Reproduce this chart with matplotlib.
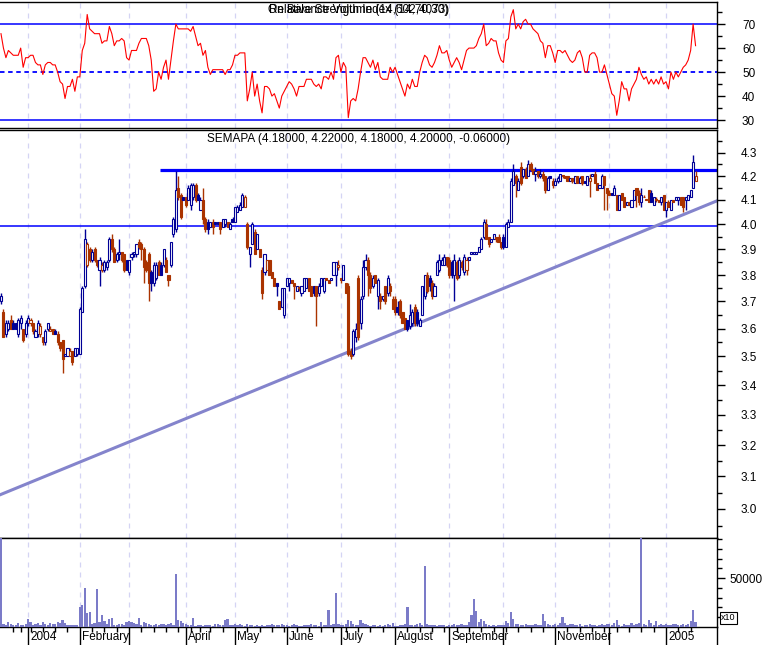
import matplotlib
matplotlib.use('Agg')
import matplotlib.pyplot as plt
from matplotlib.ticker import FixedLocator, NullFormatter, FuncFormatter
from matplotlib.lines import Line2D
import numpy as np
import pandas as pd

plt.rcParams['font.family'] = ['Liberation Sans', 'DejaVu Sans']

# ---- price data (one bar per trading day, 15 Dec 2003 .. 19 Jan 2005) ----
opens = [
    3.70, 3.66, 3.58, 3.60, 3.63, 3.62, 3.62, 3.58, 3.62, 3.60, 3.58,
    3.62, 3.62, 3.62, 3.57, 3.58, 3.58, 3.57, 3.55, 3.60, 3.59, 3.60, 3.59, 3.58, 3.55, 3.56, 3.50, 3.50, 3.50, 3.52, 3.50, 3.51,
    3.51, 3.66, 3.76, 3.84, 3.90, 3.86, 3.90, 3.86, 3.82, 3.82, 3.82, 3.83, 3.86, 3.94, 3.90, 3.86, 3.88, 3.89, 3.88, 3.86,
    3.81, 3.87, 3.88, 3.88, 3.93, 3.92, 3.90, 3.85, 3.88, 3.81, 3.77, 3.79, 3.85, 3.84, 3.84, 3.86, 3.80, 3.84, 3.96, 3.98, 4.15, 4.12, 4.11,
    4.11, 4.10, 4.08, 4.11, 4.16, 4.12, 4.06, 4.10, 4.02, 4.01, 3.99, 4.01, 4.01, 4.01, 4.01, 3.99, 4.00, 4.01, 3.98, 4.02,
    4.01, 4.05, 4.06, 4.07, 4.07, 4.00, 3.88, 3.92, 3.97, 3.90, 3.90, 3.82, 3.81, 3.82, 3.86, 3.81, 3.79, 3.77, 3.70, 3.68, 3.65,
    3.76, 3.77, 3.78, 3.77, 3.74, 3.75, 3.73, 3.74, 3.75, 3.79, 3.76, 3.76, 3.76, 3.73, 3.76, 3.74, 3.79, 3.78, 3.78, 3.80, 3.80, 3.83,
    3.79, 3.78, 3.77, 3.76, 3.52, 3.51, 3.57, 3.79, 3.62, 3.72, 3.83, 3.86, 3.80, 3.76, 3.80, 3.72, 3.72, 3.71, 3.76, 3.73, 3.76, 3.71,
    3.71, 3.68, 3.70, 3.66, 3.64, 3.63, 3.61, 3.62, 3.68, 3.66, 3.61, 3.65, 3.72, 3.80, 3.79, 3.77, 3.72, 3.80, 3.82, 3.84, 3.84, 3.87,
    3.86, 3.85, 3.80, 3.85, 3.80, 3.85, 3.81, 3.82, 3.86, 3.88, 3.88, 3.88, 3.89, 3.90, 3.95, 4.00, 3.95, 3.93, 3.94, 3.95, 3.95, 3.93,
    3.95, 3.91, 3.99, 4.01, 4.16, 4.20, 4.14, 4.24, 4.20, 4.23, 4.20, 4.25, 4.23, 4.21, 4.22, 4.20, 4.21, 4.20, 4.14, 4.20, 4.18,
    4.16, 4.18, 4.18, 4.20, 4.20, 4.20, 4.18, 4.19, 4.17, 4.20, 4.17, 4.20, 4.18, 4.16, 4.18, 4.20, 4.21, 4.17, 4.15, 4.15, 4.20, 4.15,
    4.13, 4.13, 4.12, 4.12, 4.06, 4.13, 4.11, 4.08, 4.09, 4.07, 4.10, 4.15, 4.13, 4.09, 4.11, 4.10, 4.14, 4.13, 4.08, 4.10, 4.10, 4.09, 4.12,
    4.06, 4.09, 4.06, 4.10, 4.10, 4.10, 4.11, 4.11, 4.10, 4.10, 4.11, 4.15, 4.18,
]
highs = [
    3.73, 3.67, 3.63, 3.63, 3.65, 3.63, 3.62, 3.64, 3.65, 3.60, 3.63,
    3.65, 3.64, 3.62, 3.60, 3.63, 3.62, 3.57, 3.60, 3.62, 3.61, 3.60, 3.60, 3.59, 3.55, 3.56, 3.51, 3.53, 3.53, 3.52, 3.53, 3.53,
    3.68, 3.76, 3.98, 3.93, 3.91, 3.90, 3.91, 3.86, 3.87, 3.85, 3.86, 3.86, 3.95, 3.96, 3.91, 3.89, 3.94, 3.89, 3.88, 3.86,
    3.86, 3.89, 3.89, 3.92, 3.94, 3.93, 3.91, 3.86, 3.89, 3.82, 3.85, 3.85, 3.86, 3.85, 3.90, 3.87, 3.80, 3.93, 4.03, 4.22, 4.20, 4.13, 4.11,
    4.11, 4.16, 4.17, 4.17, 4.17, 4.13, 4.11, 4.15, 4.03, 4.02, 4.01, 4.02, 4.01, 4.01, 4.01, 4.02, 4.02, 4.01, 4.01, 4.03,
    4.07, 4.08, 4.09, 4.13, 4.12, 4.01, 3.91, 4.01, 3.98, 3.96, 3.90, 3.83, 3.88, 3.86, 3.86, 3.81, 3.79, 3.77, 3.70, 3.75, 3.75,
    3.79, 3.79, 3.78, 3.77, 3.76, 3.76, 3.76, 3.79, 3.79, 3.79, 3.76, 3.76, 3.76, 3.77, 3.79, 3.79, 3.79, 3.78, 3.79, 3.85, 3.85, 3.86,
    3.79, 3.84, 3.77, 3.77, 3.53, 3.60, 3.62, 3.80, 3.72, 3.86, 3.88, 3.87, 3.81, 3.80, 3.80, 3.79, 3.73, 3.72, 3.76, 3.80, 3.77, 3.72,
    3.72, 3.70, 3.71, 3.66, 3.64, 3.63, 3.69, 3.67, 3.69, 3.67, 3.64, 3.76, 3.80, 3.81, 3.80, 3.78, 3.77, 3.86, 3.88, 3.87, 3.88, 3.87,
    3.87, 3.86, 3.88, 3.86, 3.87, 3.86, 3.88, 3.87, 3.87, 3.89, 3.89, 3.89, 3.91, 3.95, 4.02, 4.02, 3.95, 3.94, 3.96, 3.95, 3.96, 3.93,
    3.96, 4.01, 4.02, 4.19, 4.25, 4.21, 4.19, 4.26, 4.23, 4.24, 4.27, 4.26, 4.23, 4.24, 4.22, 4.23, 4.22, 4.20, 4.20, 4.20, 4.19,
    4.19, 4.20, 4.21, 4.20, 4.20, 4.20, 4.19, 4.19, 4.20, 4.20, 4.20, 4.20, 4.18, 4.20, 4.21, 4.21, 4.22, 4.17, 4.16, 4.21, 4.20, 4.15,
    4.14, 4.13, 4.16, 4.12, 4.12, 4.13, 4.11, 4.09, 4.09, 4.10, 4.14, 4.15, 4.14, 4.15, 4.12, 4.10, 4.14, 4.14, 4.11, 4.11, 4.10, 4.11, 4.12,
    4.09, 4.10, 4.10, 4.10, 4.11, 4.11, 4.11, 4.11, 4.11, 4.12, 4.14, 4.29, 4.22,
]
lows = [
    3.69, 3.57, 3.57, 3.59, 3.60, 3.60, 3.60, 3.57, 3.60, 3.55, 3.57,
    3.61, 3.61, 3.58, 3.57, 3.57, 3.57, 3.54, 3.54, 3.59, 3.59, 3.58, 3.58, 3.54, 3.52, 3.44, 3.50, 3.50, 3.50, 3.47, 3.50, 3.50,
    3.51, 3.66, 3.75, 3.83, 3.85, 3.85, 3.85, 3.83, 3.76, 3.81, 3.81, 3.82, 3.85, 3.89, 3.85, 3.85, 3.86, 3.85, 3.81, 3.82,
    3.80, 3.86, 3.87, 3.87, 3.90, 3.86, 3.77, 3.81, 3.70, 3.74, 3.76, 3.78, 3.80, 3.80, 3.83, 3.81, 3.76, 3.83, 3.95, 3.97, 4.10, 4.02, 4.10,
    4.07, 4.10, 4.06, 4.10, 4.09, 4.10, 4.06, 4.00, 3.97, 3.96, 3.99, 3.96, 4.00, 4.00, 3.96, 3.99, 3.99, 3.99, 3.98, 4.01,
    4.01, 4.05, 4.06, 4.07, 4.07, 3.90, 3.83, 3.92, 3.88, 3.90, 3.87, 3.71, 3.80, 3.82, 3.80, 3.79, 3.76, 3.72, 3.67, 3.68, 3.64,
    3.76, 3.74, 3.77, 3.71, 3.74, 3.74, 3.72, 3.74, 3.75, 3.74, 3.72, 3.72, 3.61, 3.72, 3.76, 3.73, 3.78, 3.77, 3.78, 3.80, 3.76, 3.82,
    3.77, 3.78, 3.73, 3.50, 3.49, 3.50, 3.55, 3.56, 3.60, 3.71, 3.82, 3.72, 3.73, 3.75, 3.77, 3.67, 3.67, 3.70, 3.69, 3.72, 3.72, 3.67,
    3.65, 3.65, 3.64, 3.62, 3.60, 3.59, 3.60, 3.61, 3.61, 3.61, 3.61, 3.65, 3.71, 3.73, 3.74, 3.71, 3.72, 3.80, 3.81, 3.84, 3.84, 3.83,
    3.79, 3.79, 3.70, 3.78, 3.79, 3.82, 3.80, 3.80, 3.86, 3.88, 3.88, 3.88, 3.89, 3.90, 3.94, 3.94, 3.91, 3.93, 3.94, 3.93, 3.93, 3.90,
    3.90, 3.91, 3.99, 4.01, 4.16, 4.11, 4.14, 4.16, 4.19, 4.19, 4.20, 4.22, 4.21, 4.18, 4.19, 4.19, 4.18, 4.13, 4.14, 4.19, 4.15,
    4.16, 4.17, 4.18, 4.19, 4.19, 4.18, 4.18, 4.17, 4.17, 4.17, 4.17, 4.16, 4.17, 4.16, 4.11, 4.20, 4.17, 4.14, 4.15, 4.15, 4.06, 4.06,
    4.12, 4.12, 4.12, 4.06, 4.06, 4.10, 4.07, 4.08, 4.08, 4.07, 4.10, 4.07, 4.08, 4.07, 4.11, 4.10, 4.09, 4.09, 4.08, 4.09, 4.09, 4.08, 4.06,
    4.03, 4.07, 4.06, 4.09, 4.10, 4.08, 4.08, 4.05, 4.06, 4.10, 4.11, 4.15, 4.18,
]
closes = [
    3.72, 3.57, 3.62, 3.62, 3.60, 3.60, 3.60, 3.63, 3.64, 3.56, 3.62,
    3.64, 3.63, 3.59, 3.59, 3.62, 3.61, 3.55, 3.59, 3.62, 3.60, 3.58, 3.58, 3.55, 3.53, 3.49, 3.51, 3.53, 3.52, 3.48, 3.53, 3.53,
    3.67, 3.75, 3.94, 3.92, 3.86, 3.89, 3.86, 3.84, 3.86, 3.84, 3.85, 3.85, 3.94, 3.90, 3.85, 3.88, 3.89, 3.86, 3.82, 3.82,
    3.86, 3.88, 3.89, 3.92, 3.91, 3.90, 3.83, 3.82, 3.77, 3.77, 3.84, 3.84, 3.80, 3.80, 3.90, 3.81, 3.78, 3.93, 4.02, 4.14, 4.11, 4.03, 4.10,
    4.08, 4.15, 4.16, 4.16, 4.10, 4.10, 4.10, 4.02, 3.98, 3.98, 4.01, 3.99, 4.00, 4.00, 3.98, 4.02, 4.02, 3.99, 4.00, 4.01,
    4.07, 4.07, 4.08, 4.12, 4.11, 3.91, 3.91, 4.00, 3.88, 3.96, 3.87, 3.73, 3.88, 3.86, 3.80, 3.79, 3.76, 3.76, 3.67, 3.75, 3.75,
    3.79, 3.79, 3.77, 3.76, 3.76, 3.75, 3.76, 3.79, 3.79, 3.74, 3.72, 3.73, 3.72, 3.76, 3.79, 3.79, 3.78, 3.77, 3.79, 3.85, 3.85, 3.84,
    3.78, 3.84, 3.73, 3.51, 3.50, 3.59, 3.60, 3.57, 3.71, 3.83, 3.86, 3.80, 3.75, 3.79, 3.77, 3.78, 3.70, 3.72, 3.70, 3.79, 3.74, 3.67,
    3.66, 3.66, 3.65, 3.62, 3.60, 3.60, 3.65, 3.66, 3.62, 3.62, 3.63, 3.76, 3.80, 3.74, 3.76, 3.72, 3.76, 3.85, 3.86, 3.86, 3.87, 3.84,
    3.80, 3.80, 3.86, 3.79, 3.86, 3.83, 3.87, 3.86, 3.87, 3.89, 3.89, 3.89, 3.91, 3.94, 4.01, 3.94, 3.92, 3.94, 3.96, 3.94, 3.93, 3.91,
    3.91, 4.00, 4.01, 4.18, 4.22, 4.17, 4.18, 4.17, 4.23, 4.19, 4.25, 4.23, 4.21, 4.22, 4.20, 4.21, 4.19, 4.14, 4.19, 4.19, 4.16,
    4.18, 4.19, 4.21, 4.20, 4.19, 4.18, 4.19, 4.18, 4.20, 4.17, 4.19, 4.17, 4.17, 4.20, 4.19, 4.21, 4.17, 4.14, 4.16, 4.20, 4.16, 4.13,
    4.12, 4.12, 4.15, 4.06, 4.12, 4.10, 4.07, 4.09, 4.08, 4.10, 4.14, 4.12, 4.09, 4.12, 4.11, 4.10, 4.09, 4.09, 4.11, 4.10, 4.09, 4.11, 4.06,
    4.09, 4.07, 4.10, 4.09, 4.11, 4.11, 4.08, 4.07, 4.11, 4.12, 4.14, 4.26, 4.20,
]
volume = [
    120000, 3000, 2500, 5000, 3000, 2000, 2500, 4500, 2000, 2000, 3000,
    8000, 5000, 2500, 3000, 4000, 2500, 5000, 3500, 2500, 4000, 3000, 3000, 5000, 4000, 7000, 4000, 2500, 2000, 2500, 2000, 2500,
    20000, 22000, 40000, 14000, 15000, 3000, 4000, 39000, 5000, 12000, 6000, 3000, 8000, 9000, 2500, 2000, 3000, 3000, 2500, 5000,
    6000, 5000, 4500, 3000, 9000, 2500, 5000, 4000, 3000, 2500, 2000, 3000, 2500, 3500, 3000, 2500, 3000, 4000, 2500, 54000, 7000, 6000, 4000,
    3000, 2500, 2000, 9000, 1500, 2000, 2500, 1500, 2000, 2500, 2000, 1500, 3500, 3000, 2000, 2500, 7500, 8000, 2500, 2000,
    3000, 2500, 3500, 2000, 1500, 3000, 2500, 2000, 1500, 2000, 1500, 2000, 1500, 2500, 2000, 3000, 2500, 2000, 2500, 3000, 2000,
    2000, 1500, 2000, 3000, 2000, 1500, 1500, 2500, 2000, 2500, 3000, 2000, 2000, 1500, 5000, 2000, 2000, 17000, 2500, 3000, 35000, 3000,
    2000, 2500, 3000, 7000, 6000, 3000, 2500, 2000, 7000, 4000, 3000, 2000, 1500, 2000, 2500, 1500, 2000, 1500, 2000, 3000, 2000, 4000,
    1500, 1500, 2000, 2500, 3000, 20000, 2500, 2000, 2500, 3000, 4000, 2000, 62000, 3000, 2500, 2000, 2000, 1500, 2000, 2500, 2000, 1500,
    2000, 2500, 3000, 2000, 2500, 3500, 2500, 2000, 5000, 12000, 29000, 16000, 5000, 8000, 6000, 3000, 2000, 1500, 2000, 1500, 2500, 2000,
    2000, 6000, 4000, 15000, 8000, 3000, 3500, 2500, 2000, 3000, 2500, 2000, 2500, 3500, 2000, 2500, 13000, 6000, 3000, 2500, 2000,
    3000, 2500, 4500, 10000, 4000, 2000, 3500, 3000, 2500, 2000, 3000, 1500, 2000, 2500, 3500, 2000, 2500, 1500, 2000, 3000, 2000, 3000,
    3500, 2500, 4000, 7000, 2000, 1500, 3000, 2000, 2500, 4000, 2500, 3000, 4500, 120000, 3000, 2500, 7000, 4000, 2500, 6000, 2500, 3000, 2000,
    3000, 2500, 2500, 3500, 3000, 2000, 2500, 3000, 2500, 3000, 6000, 17000, 5000,
]
rsi = [
    66, 60, 56, 59, 58, 57, 57, 57, 60, 52, 56,
    56, 57, 57, 54, 53, 53, 49, 53, 54, 54, 53, 53, 50, 46, 45, 39, 44, 44, 47, 42, 48,
    48, 59, 62, 74, 68, 67, 66, 66, 66, 62, 63, 63, 69, 66, 61, 63, 63, 64, 63, 56,
    55, 59, 59, 59, 62, 64, 64, 64, 61, 55, 42, 43, 50, 47, 52, 55, 47, 55, 63, 70, 68, 68, 68,
    68, 68, 67, 69, 65, 61, 62, 57, 59, 52, 49, 51, 51, 51, 51, 51, 49, 51, 51, 53,
    57, 57, 58, 58, 58, 38, 43, 50, 40, 45, 38, 33, 44, 44, 43, 40, 41, 38, 35, 40, 42,
    44, 46, 45, 43, 40, 44, 44, 44, 47, 47, 47, 45, 44, 45, 43, 48, 48, 47, 50, 47, 56, 57,
    50, 54, 52, 31, 38, 39, 38, 43, 50, 56, 56, 54, 52, 55, 51, 54, 48, 47, 47, 47, 52, 50,
    52, 49, 46, 43, 40, 45, 43, 47, 44, 44, 50, 54, 57, 56, 53, 52, 54, 57, 61, 58, 58, 59,
    55, 52, 54, 56, 54, 51, 55, 59, 60, 60, 60, 61, 64, 66, 70, 61, 62, 64, 63, 63, 58, 55,
    54, 63, 64, 73, 76, 68, 70, 68, 71, 72, 70, 70, 68, 67, 66, 63, 62, 56, 61, 61, 58,
    54, 59, 59, 58, 59, 57, 55, 54, 55, 58, 59, 56, 50, 50, 57, 58, 58, 56, 50, 50, 53, 49,
    45, 41, 40, 32, 38, 46, 43, 43, 38, 43, 45, 47, 52, 49, 47, 48, 45, 47, 45, 47, 45, 48, 45,
    46, 43, 50, 47, 50, 48, 50, 52, 53, 55, 59, 70, 61,
]
holidays = ['2003-12-25', '2003-12-26', '2004-01-01', '2004-04-09', '2004-04-12']
month_labels = ['2004', 'February', '', 'April', 'May', 'June', 'July', 'August',
                'September', '', 'November', '', '2005']
title_price = 'SEMAPA (4.18000, 4.22000, 4.18000, 4.20000, -0.06000)'
support_level = 3.995
resistance_level = 4.225
resistance_from = 64.6
trend_x = [-0.4, 290.7]
trend_y = [3.043, 4.096]

n = len(closes)
assert len(opens) == len(highs) == len(lows) == n == len(volume) == len(rsi)
dates = pd.bdate_range('2003-12-15', periods=n, freq='C', holidays=holidays)
idx = np.arange(n)
o, h, l, c = (np.array(a) for a in (opens, highs, lows, closes))

BLUE = '#000096'
BROWN = '#aa3300'
LINE = '#0000ff'
PURPLE = '#8484cc'
GRID = '#d4d4f4'

W, H = 764, 645
fig = plt.figure(figsize=(W / 100, H / 100), dpi=100)

def rect(top, bottom):
    return [0, 1 - bottom / H, 717 / W, (bottom - top) / H]

ax_rsi = fig.add_axes(rect(2, 128))
ax_px = fig.add_axes(rect(130, 538), sharex=ax_rsi)
ax_vol = fig.add_axes(rect(538, 627), sharex=ax_rsi)

# month starts and week starts
per = dates.to_period('M')
month_starts = [i for i in range(1, n) if per[i] != per[i - 1]]
week_starts = [i for i in range(1, n) if dates[i].weekday() < dates[i - 1].weekday()]

for ax in (ax_rsi, ax_px, ax_vol):
    ax.spines['left'].set_visible(False)
    for s in ('top', 'bottom', 'right'):
        ax.spines[s].set_linewidth(1.0)
    ax.yaxis.tick_right()
    ax.tick_params(axis='y', which='major', direction='out', length=6, width=1, labelsize=8.5)
    ax.tick_params(axis='y', which='minor', direction='out', length=3.5, width=1)
    for m in month_starts:
        ax.axvline(m, color=GRID, lw=0.9, ls=(0, (4, 4)), zorder=0)
    ax.set_xlim(-0.4, 290.7)

# ---- RSI panel ----
ax_rsi.plot(idx, rsi, color='red', lw=0.8, zorder=3)
ax_rsi.axhline(70, color=LINE, lw=1.1)
ax_rsi.axhline(30, color=LINE, lw=1.1)
ax_rsi.axhline(50, color=LINE, lw=1.3, ls=(0, (2.5, 2)))
ax_rsi.set_ylim(26.7, 79.2)
ax_rsi.yaxis.set_major_locator(FixedLocator([30, 40, 50, 60, 70]))
ax_rsi.yaxis.set_minor_locator(FixedLocator([35, 45, 55, 65, 75]))
ax_rsi.tick_params(axis='y', which='major', pad=12)
ax_rsi.tick_params(axis='x', which='both', bottom=False, labelbottom=False)
ax_rsi.text(0.5, 0.935, 'Relative Strength Index (14,70,30)', transform=ax_rsi.transAxes,
            ha='center', va='center', fontsize=8.5)
ax_rsi.text(0.5, 0.935, 'On Balance Volume (14,602,4073)', transform=ax_rsi.transAxes,
            ha='center', va='center', fontsize=8.5)

# ---- price panel ----
prev = np.r_[c[0], c[:-1]]
col = np.where(c >= prev, BLUE, BROWN)
face = np.where(c > o, 'white', col)
ax_px.set_yscale('log')
ax_px.vlines(idx, l, h, colors=col, lw=1.0, zorder=3)
ax_px.bar(idx, np.maximum(np.abs(c - o), 0.003), bottom=np.minimum(o, c), width=0.85,
          color=face, edgecolor=col, linewidth=0.8, zorder=4)
ax_px.axhline(support_level, color=LINE, lw=1.1, zorder=2)
ax_px.hlines(resistance_level, resistance_from, 290.7, color=LINE, lw=2.3, zorder=2)
ax_px.plot(trend_x, trend_y, color=PURPLE, lw=2.2, zorder=2)
ax_px.set_ylim(2.913, 4.40)
ax_px.yaxis.set_major_locator(FixedLocator(np.round(np.arange(3.0, 4.35, 0.1), 2)))
ax_px.yaxis.set_major_formatter(FuncFormatter(lambda v, p: f'{v:.1f}'))
ax_px.yaxis.set_minor_locator(FixedLocator(np.round(np.arange(2.95, 4.40, 0.1), 2)))
ax_px.yaxis.set_minor_formatter(NullFormatter())
ax_px.tick_params(axis='y', which='major', pad=11)
ax_px.tick_params(axis='x', which='both', bottom=False, labelbottom=False)
ax_px.text(0.5, 0.978, title_price, transform=ax_px.transAxes, ha='center', va='center', fontsize=8.5)

# ---- volume panel ----
ax_vol.bar(idx, volume, width=0.9, color='#7b7bc8', linewidth=0, zorder=3)
ax_vol.set_ylim(0, 91000)
ax_vol.yaxis.set_major_locator(FixedLocator([50000]))
ax_vol.yaxis.set_minor_locator(FixedLocator([10000, 20000, 30000, 40000, 60000, 70000, 80000, 90000]))
ax_vol.yaxis.set_major_formatter(FuncFormatter(lambda v, p: f'{v:.0f}'))
ax_vol.tick_params(axis='y', which='major', pad=3)
ax_vol.xaxis.set_major_locator(FixedLocator(month_starts))
ax_vol.xaxis.set_minor_locator(FixedLocator(week_starts))
ax_vol.tick_params(axis='x', which='major', direction='out', length=13, width=1, labelbottom=False)
ax_vol.tick_params(axis='x', which='minor', direction='out', length=3.5, width=1)
for m, lab in zip(month_starts, month_labels):
    if lab:
        ax_vol.text(m + 0.8, -0.115, lab, transform=ax_vol.get_xaxis_transform(),
                    ha='left', va='center', fontsize=8.5, clip_on=False)
fig.text(721 / W, 1 - 618 / H, 'x10', fontsize=6.5, ha='left', va='center',
         bbox=dict(boxstyle='square,pad=0.15', fc='white', ec='black', lw=0.8))
fig.add_artist(Line2D([717 / W, 717 / W], [0, 1 - 627 / H], color='black', lw=1))

fig.savefig('out.png', dpi=100)
